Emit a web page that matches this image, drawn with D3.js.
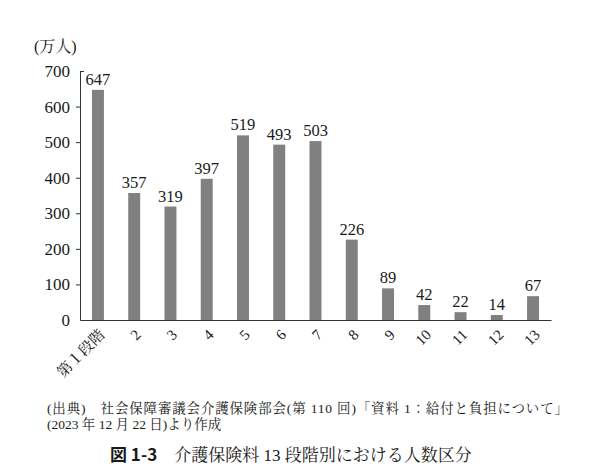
<!DOCTYPE html>
<html><head><meta charset="utf-8">
<script src="https://cdn.jsdelivr.net/npm/d3@7"></script>
<style>
body{margin:0;background:#fff;}
svg{display:block;}
text{fill:#1a1a1a;}
</style></head>
<body><svg id="c" width="600" height="474"></svg>
<script>
const categories = ["第１段階","2","3","4","5","6","7","8","9","10","11","12","13"];
const values = [647,357,319,397,519,493,503,226,89,42,22,14,67];
const yTicks = [0,100,200,300,400,500,600,700];
const unitLabel = "(万人)";
const sourceLines = ["(出典)　社会保障審議会介護保険部会(第 110 回)「資料 1：給付と負担について」","(2023 年 12 月 22 日)より作成"];
const titleBold = "図 1-3";
const titleRest = "介護保険料 13 段階別における人数区分";

const serif = '"Liberation Serif","Noto Serif CJK JP","Noto Sans CJK JP",serif';
const svg = d3.select("#c");
const x = d3.scaleBand().domain(categories).range([80,551]).paddingInner(0.67).paddingOuter(0.33);
const y = d3.scaleLinear().domain([0,700]).range([320,71]);

// bars
svg.append("g").selectAll("rect").data(values).join("rect")
  .attr("x",(d,i)=>x(categories[i])).attr("width",x.bandwidth())
  .attr("y",d=>y(d)).attr("height",d=>y(0)-y(d)).attr("fill","#808080");

// value labels
svg.append("g").selectAll("text").data(values).join("text")
  .attr("x",(d,i)=>x(categories[i])+x.bandwidth()/2).attr("y",d=>y(d)-5)
  .attr("text-anchor","middle").attr("font-family",serif).attr("font-size",16.5)
  .text(d=>d);

// y axis
const ya = svg.append("g").attr("transform","translate(80,0)")
  .call(d3.axisLeft(y).tickValues(yTicks).tickSize(4).tickPadding(6).tickSizeOuter(0));
ya.select(".domain").attr("stroke","#333");
ya.selectAll(".tick line").attr("stroke","#333");
ya.selectAll(".tick text").attr("font-family",serif).attr("font-size",17).style("fill","#1a1a1a");
ya.selectAll(".tick").filter(d=>d===700).select("line").attr("x2",4);
ya.selectAll(".tick").filter(d=>d===0).select("line").remove();

// x axis
const xa = svg.append("g").attr("transform","translate(0,320)")
  .call(d3.axisBottom(x).tickSize(0).tickSizeOuter(0).tickPadding(0));
xa.select(".domain").attr("stroke","#333");
xa.selectAll(".tick text")
  .attr("font-family",serif).attr("font-size",15).style("fill","#1a1a1a")
  .attr("text-anchor","end").attr("dy","0.35em")
  .attr("transform","translate(4,12) rotate(-45)");

// unit
svg.append("text").attr("x",34).attr("y",52).attr("font-family",serif).attr("font-size",16).text(unitLabel);

// source
sourceLines.forEach((s,i)=>{
  const tx = svg.append("text").attr("x",47).attr("y",413+i*16).attr("font-family",serif)
    .attr("font-size",13.5).text(s);
  if(i===0) tx.attr("textLength",521).attr("lengthAdjust","spacing");
});

// title
const t = svg.append("text").attr("x",110).attr("y",461).attr("font-family",serif).attr("font-size",17);
t.append("tspan").attr("font-weight","bold").attr("font-family",'"Noto Sans CJK JP",sans-serif').text(titleBold);
t.append("tspan").text("　"+titleRest);
</script></body></html>
